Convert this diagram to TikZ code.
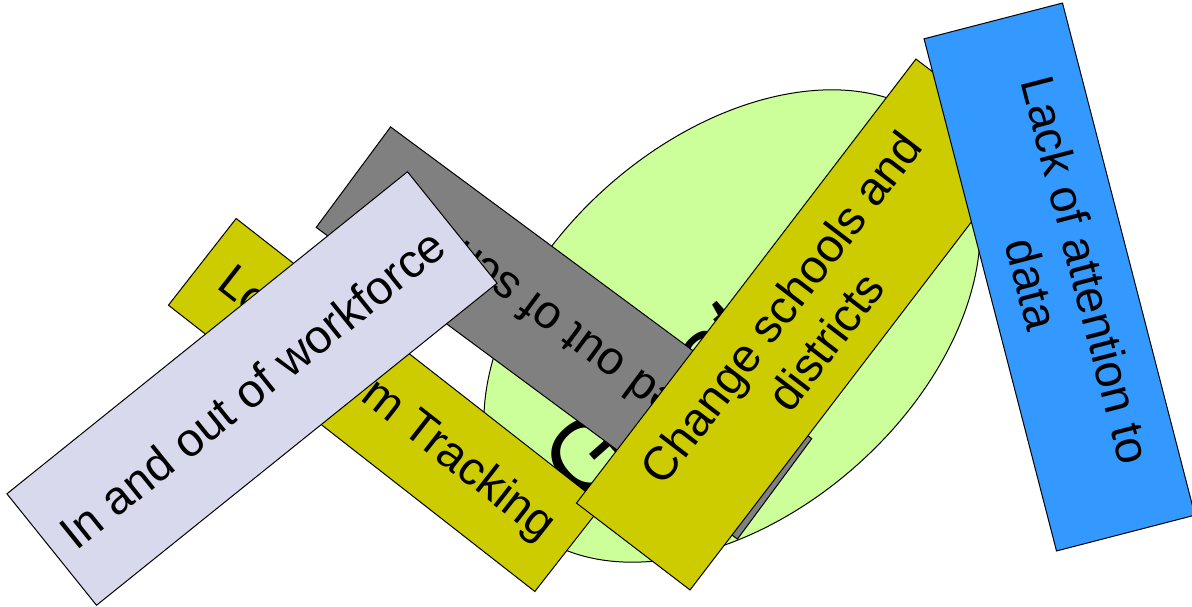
\documentclass[tikz,border=0pt]{standalone}
\usepackage{fontspec}
\setmainfont{Liberation Sans}
\usepackage{tikz}
\usetikzlibrary{shapes.geometric}
\definecolor{olivebox}{RGB}{204,204,0}
\definecolor{greybox}{RGB}{128,128,128}
\definecolor{lavbox}{RGB}{217,217,237}
\definecolor{bluebox}{RGB}{51,153,255}
\definecolor{limeoval}{RGB}{204,255,153}
\tikzset{
  card/.style={draw, line width=1pt, rectangle, align=center, inner sep=0pt, font=\fontsize{47}{56}\selectfont},
  oval/.style={draw, line width=1pt, ellipse, fill=limeoval, inner sep=0pt},
  bigword/.style={inner sep=0pt, font=\fontsize{100}{110}\selectfont}
}

\begin{document}
\begin{tikzpicture}[x=1pt, y=1pt]
  \useasboundingbox (0,0) rectangle (1192,606);
  \clip (0,0) rectangle (1192,606);
  % back: the oval and its word
  \node[oval, minimum width=574, minimum height=374, rotate=41.5] (goal) at (732,280) {};
  \node[bigword, anchor=base west, rotate=41.5] (goalword) at (581,98.5) {Great};
  % the cards, back to front
  \node[card, fill=olivebox, minimum width=465, minimum height=110, rotate=-38] (tracking) at (385.5,201) {Long Term Tracking};
  \node[card, fill=greybox, minimum width=524, minimum height=125, rotate=143.5] (moved) at (564,273) {Moved out of schools};
  \node[card, fill=lavbox, minimum width=514, minimum height=143, rotate=38.8] (workforce) at (252,217.5) {In and out of workforce};
  \node[card, fill=olivebox, minimum width=559, minimum height=143, rotate=52.6] (change) at (803,281.5) {Change schools and\\districts};
  \node[card, fill=bluebox, minimum width=529, minimum height=143, rotate=-75.5] (lack) at (1059.5,329) {Lack of attention to\\data};
\end{tikzpicture}
\end{document}
